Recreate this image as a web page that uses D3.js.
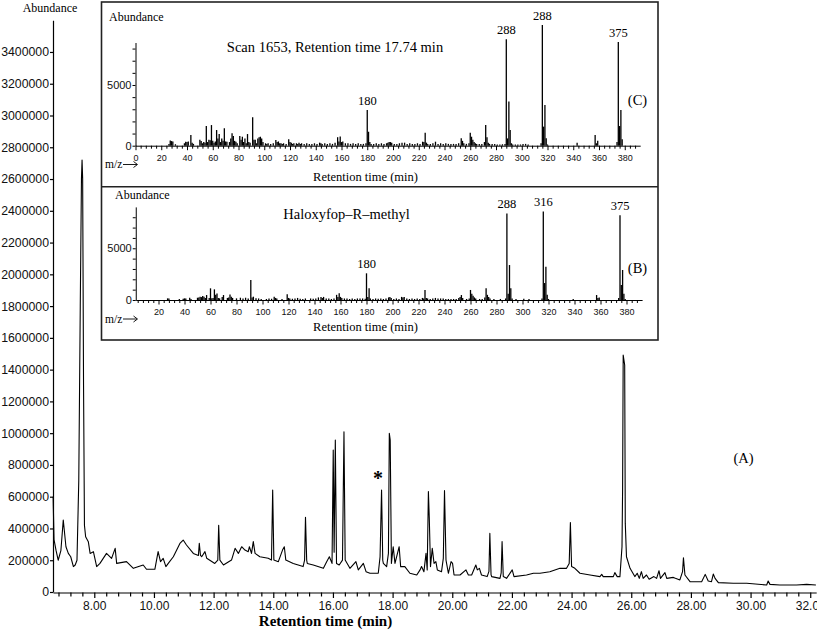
<!DOCTYPE html>
<html><head><meta charset="utf-8">
<script src="https://cdn.jsdelivr.net/npm/d3@7"></script>
<style>
body{margin:0;background:#fff;}
svg{display:block;}
</style></head><body>
<svg id="c" width="817" height="638"></svg>
<script>
// ---------- main chromatogram (A) ----------
const rtTime = [6.62,6.65,6.72,6.79,6.88,6.96,7.05,7.13,7.21,7.30,7.36,7.42,7.48,7.53,7.57,7.59,7.61,7.64,7.67,7.71,7.80,7.86,7.97,8.08,8.19,8.41,8.58,8.70,8.75,9.08,9.31,9.64,9.75,10.03,10.14,10.22,10.31,10.40,10.48,10.65,10.87,10.98,11.09,11.32,11.49,11.52,11.56,11.60,11.71,11.77,12.04,12.14,12.17,12.21,12.33,12.60,12.72,12.83,12.94,13.05,13.16,13.20,13.27,13.33,13.39,13.55,13.83,13.94,13.98,14.02,14.17,14.31,14.37,14.42,14.67,15.00,15.05,15.08,15.12,15.14,15.34,15.68,15.79,15.88,15.97,16.01,16.04,16.08,16.12,16.21,16.32,16.37,16.41,16.57,16.77,16.85,17.02,17.11,17.24,17.52,17.58,17.63,17.67,17.69,17.80,17.86,17.89,17.92,17.96,18.02,18.08,18.22,18.27,18.41,18.58,18.81,18.92,18.97,19.05,19.12,19.16,19.20,19.23,19.27,19.33,19.39,19.45,19.50,19.64,19.70,19.74,19.79,19.87,19.96,20.01,20.06,20.26,20.46,20.54,20.65,20.79,20.84,20.91,20.98,21.17,21.23,21.26,21.30,21.32,21.60,21.64,21.67,21.71,21.82,22.01,22.07,22.49,22.72,22.94,23.27,23.61,23.83,23.92,23.96,24.00,24.11,24.28,24.62,24.95,25.01,25.06,25.40,25.45,25.53,25.62,25.69,25.71,25.73,25.78,25.80,25.84,25.96,26.12,26.20,26.27,26.34,26.40,26.51,26.60,26.76,26.85,26.93,26.98,27.13,27.19,27.41,27.48,27.63,27.72,27.75,27.80,27.97,28.36,28.48,28.58,28.69,28.75,28.81,28.92,29.42,29.87,30.54,30.59,30.65,30.98,31.54,31.88,32.19];
const rtAbund = [600000,330000,260000,200000,260000,453000,285000,243000,222000,160000,170000,200000,700000,1800000,2600000,2720000,2600000,1300000,420000,348000,317000,243000,254000,160000,180000,243000,212000,275000,180000,191000,149000,170000,143000,143000,254000,191000,212000,160000,180000,222000,306000,327000,296000,243000,230000,306000,230000,222000,254000,212000,180000,200000,420000,201000,170000,201000,275000,243000,285000,264000,254000,285000,243000,317000,243000,222000,212000,201000,642000,201000,191000,264000,285000,201000,180000,160000,200000,470000,200000,180000,170000,149000,191000,222000,180000,894000,250000,957000,180000,170000,201000,1009000,201000,149000,191000,139000,180000,128000,118000,118000,222000,642000,200000,180000,160000,243000,999000,957000,180000,285000,180000,285000,160000,160000,118000,107000,139000,160000,128000,243000,139000,632000,464000,160000,275000,180000,191000,139000,128000,212000,638000,201000,118000,191000,180000,107000,107000,139000,107000,107000,170000,139000,149000,107000,97000,130000,369000,110000,97000,86000,120000,317000,97000,86000,139000,97000,107000,118000,118000,128000,149000,149000,180000,437000,160000,149000,118000,107000,97000,111000,97000,97000,122000,97000,97000,285000,642000,1492000,1429000,432000,222000,149000,97000,118000,86000,128000,86000,107000,80000,97000,86000,134000,86000,122000,86000,92000,86000,76000,128000,216000,107000,65000,65000,111000,69000,65000,113000,86000,59000,55000,55000,44000,69000,48000,44000,44000,48000,44000];
const yTickValues = [0,200000,400000,600000,800000,1000000,1200000,1400000,1600000,1800000,2000000,2200000,2400000,2600000,2800000,3000000,3200000,3400000];
const xTickValues = [8,10,12,14,16,18,20,22,24,26,28,30,32];
const xTickLabels = ["8.00","10.00","12.00","14.00","16.00","18.00","20.00","22.00","24.00","26.00","28.00","30.00","32.00"];

// ---------- inset (C): scan 1653 ----------
const specC_mz = [26,27,28,29,31,38,39,40,41,43,44,45,50,51,52,53,54,55,56,57,58,59,60,61,62,63,64,65,66,67,68,69,70,71,73,74,75,76,77,78,79,81,82,83,84,85,86,87,88,89,91,92,93,94,95,96,97,98,99,101,102,103,105,107,109,110,111,112,113,114,115,117,119,120,121,122,123,125,126,127,128,129,131,133,135,137,139,141,143,144,145,147,149,151,153,155,157,158,159,160,161,163,165,167,169,171,173,175,177,179,180,181,182,183,185,187,189,191,193,195,196,197,198,199,201,203,205,207,209,211,213,215,217,219,221,223,224,225,226,227,229,231,233,235,237,239,241,243,245,247,249,251,253,254,255,257,259,260,261,262,263,264,265,267,269,271,272,273,274,275,277,279,281,283,285,287,288,289,290,291,292,293,295,297,299,301,303,305,315,316,317,318,319,320,343,357,358,359,374,375,376,377,378];
const specC_ab = [150,420,380,350,120,200,330,300,350,880,250,150,490,380,200,300,250,1620,300,500,450,1700,400,250,350,1290,600,960,300,600,400,1430,350,330,300,600,1020,800,400,330,200,800,500,740,300,600,200,960,300,250,2340,500,490,200,600,700,740,600,300,200,150,200,150,200,460,300,350,200,200,150,200,150,530,300,250,150,200,200,150,250,150,200,150,200,150,150,200,150,250,200,150,200,150,200,150,250,700,350,750,300,350,200,200,150,200,150,200,150,150,200,2940,1150,300,150,150,200,150,200,150,200,250,300,300,250,150,150,200,250,250,150,200,150,150,200,150,330,300,1070,250,150,150,200,330,150,200,150,200,150,150,150,150,200,610,400,200,150,200,1070,740,490,300,200,150,150,150,300,1700,690,250,150,150,150,100,100,120,150,8760,600,3650,1290,200,100,100,100,100,150,150,100,200,9940,1570,3350,610,100,250,880,200,410,300,8540,1620,2940,530];
const labC_mz = [180,288,316,375];
const labC_txt = ["180","288","288","375"];

// ---------- inset (B): Haloxyfop-R-methyl ----------
const specB_mz = [27,28,36,39,40,41,44,45,50,51,52,53,54,55,56,57,59,60,61,62,63,64,65,66,67,69,70,73,74,75,76,77,80,83,85,87,89,91,92,93,95,97,99,103,105,107,109,110,111,115,119,120,121,123,125,127,129,131,133,137,139,141,143,145,146,147,149,151,153,155,157,158,159,160,161,163,165,167,169,171,173,175,177,179,180,181,182,183,185,187,189,191,193,195,197,198,199,201,203,205,207,208,209,211,213,215,217,219,221,223,224,225,226,227,229,231,233,235,237,239,241,243,245,247,249,251,252,253,254,257,259,260,261,262,263,264,267,269,271,272,273,274,275,278,283,287,288,289,290,291,292,295,301,305,315,316,317,318,319,320,339,357,358,359,374,375,376,377,378,379];
const specB_ab = [160,150,100,120,160,150,220,100,220,250,320,280,390,320,200,480,200,1130,160,200,1030,500,640,200,160,300,480,200,250,540,320,200,160,220,150,220,150,1930,250,320,160,150,100,100,150,120,320,200,150,100,550,200,150,120,150,200,120,100,150,150,120,150,250,300,200,300,150,150,100,150,500,300,650,300,200,150,150,100,150,100,150,150,150,120,2580,300,1130,150,100,150,120,150,100,150,250,300,200,100,150,100,300,250,300,150,100,150,100,150,100,200,150,970,200,150,100,150,200,150,150,150,100,100,100,100,100,200,300,480,200,100,150,970,600,400,250,150,100,100,250,1130,500,300,150,100,100,150,8350,600,3380,1130,150,100,120,100,150,8550,1640,3220,500,100,100,480,200,250,200,8200,1450,2900,600,100];
const labB_mz = [180,288,316,375];
const labB_txt = ["180","288","316","375"];

const svg = d3.select("#c");
const SANS = '"Liberation Sans", Arial, sans-serif';
const SERIF = '"Liberation Serif", "Times New Roman", serif';

// ---------- main axes ----------
const x = d3.scaleLinear().domain([6.616, 32.2]).range([53, 816.2]);
const y = d3.scaleLinear().domain([0, 3600000]).range([592, 20.2]);

const gy = svg.append("g").attr("transform", "translate(53,0)")
  .call(d3.axisLeft(y).tickValues(yTickValues).tickSize(3).tickSizeOuter(0).tickPadding(1).tickFormat(d => String(d)));
gy.selectAll("text").attr("font-family", SANS).attr("font-size", 12.3).attr("fill", "#111");
gy.selectAll("line,path").attr("stroke", "#000").attr("stroke-width", 1.2);

const minorT = d3.range(6.8, 32.2, 0.4).filter(t => Math.abs(t / 2 - Math.round(t / 2)) > 0.01);
const gxm = svg.append("g").attr("transform", "translate(0,592.5)")
  .call(d3.axisBottom(x).tickValues(minorT).tickSize(4).tickSizeOuter(0).tickFormat(""));
gxm.selectAll("line,path").attr("stroke", "#000").attr("stroke-width", 1.2);
const gx = svg.append("g").attr("transform", "translate(0,592.5)")
  .call(d3.axisBottom(x).tickValues(xTickValues).tickSize(5.5).tickSizeOuter(0).tickPadding(3).tickFormat((d, i) => xTickLabels[i]));
gx.select(".domain").remove();
gx.selectAll("line").attr("stroke", "#000").attr("stroke-width", 1.2);
gx.selectAll("text").attr("font-family", SANS).attr("font-size", 12).attr("fill", "#111");

// chromatogram line
const mainPts = rtTime.map((t, i) => [t, rtAbund[i]]);
svg.append("path").datum(mainPts)
  .attr("d", d3.line().x(d => x(d[0])).y(d => y(d[1])))
  .attr("fill", "none").attr("stroke", "#000").attr("stroke-width", 1.1).attr("stroke-linejoin", "round");

svg.append("text").attr("x", 50).attr("y", 12).attr("text-anchor", "middle")
  .attr("font-family", SERIF).attr("font-size", 12).text("Abundance");
svg.append("text").attr("x", 325.5).attr("y", 626).attr("text-anchor", "middle")
  .attr("font-family", SERIF).attr("font-size", 15).attr("font-weight", "bold").text("Retention time (min)");
svg.append("text").attr("x", 743.5).attr("y", 463).attr("text-anchor", "middle")
  .attr("font-family", SERIF).attr("font-size", 14.5).text("(A)");
svg.append("text").attr("x", x(17.63) - 3.5).attr("y", 485).attr("text-anchor", "middle")
  .attr("font-family", SERIF).attr("font-size", 20).attr("font-weight", "bold").text("*");

// ---------- inset frame ----------
svg.append("rect").attr("x", 101.5).attr("y", 2).attr("width", 556.5).attr("height", 338)
  .attr("fill", "#fff").attr("stroke", "#222").attr("stroke-width", 1.6);
svg.append("line").attr("x1", 101.5).attr("x2", 658).attr("y1", 186.7).attr("y2", 186.7)
  .attr("stroke", "#222").attr("stroke-width", 1.6);

function drawInset(cfg) {
  const xs = d3.scaleLinear().domain(cfg.xDomain).range(cfg.xRange);
  const ys = d3.scaleLinear().domain(cfg.yDomain).range(cfg.yRange);
  const g = svg.append("g");
  const ya = g.append("g").attr("transform", `translate(${cfg.xRange[0]},0)`)
    .call(d3.axisLeft(ys).tickValues(d3.range(0, cfg.yDomain[1], 1000)).tickSize(3).tickSizeOuter(0).tickPadding(1)
      .tickFormat(d => (d === 0 || d === 5000) ? String(d) : ""));
  ya.selectAll("line,path").attr("stroke", "#000").attr("stroke-width", 1);
  ya.selectAll("text").attr("font-family", SANS).attr("font-size", 11).attr("fill", "#111");
  const xa = g.append("g").attr("transform", `translate(0,${cfg.yRange[0]})`)
    .call(d3.axisBottom(xs).tickValues(cfg.minor).tickSize(3).tickSizeOuter(0).tickFormat(""));
  xa.selectAll("line,path").attr("stroke", "#000").attr("stroke-width", 1);
  const xb = g.append("g").attr("transform", `translate(0,${cfg.yRange[0]})`)
    .call(d3.axisBottom(xs).tickValues(cfg.major).tickSize(4.5).tickSizeOuter(0).tickPadding(4).tickFormat(d => String(d)));
  xb.select(".domain").remove();
  xb.selectAll("line").attr("stroke", "#000").attr("stroke-width", 1);
  xb.selectAll("text").attr("font-family", SANS).attr("font-size", 9).attr("fill", "#111");
  g.append("g").selectAll("line").data(cfg.mz).join("line")
    .attr("x1", d => xs(d)).attr("x2", d => xs(d))
    .attr("y1", ys(0)).attr("y2", (d, i) => ys(cfg.ab[i]))
    .attr("stroke", "#000").attr("stroke-width", 1.3);
  g.append("g").selectAll("text").data(cfg.labMz).join("text")
    .attr("x", d => xs(d)).attr("y", d => ys(cfg.ab[cfg.mz.indexOf(d)]) - 5.5)
    .attr("text-anchor", "middle").attr("font-family", SERIF).attr("font-size", 12.5)
    .text((d, i) => cfg.labTxt[i]);
  g.append("text").attr("x", cfg.abX).attr("y", cfg.abY).attr("font-family", SERIF).attr("font-size", 12).text("Abundance");
  g.append("text").attr("x", cfg.titleX).attr("y", cfg.titleY).attr("text-anchor", "middle")
    .attr("font-family", SERIF).attr("font-size", 14.5).text(cfg.title);
  g.append("text").attr("x", 637.5).attr("y", cfg.tagY).attr("text-anchor", "middle")
    .attr("font-family", SERIF).attr("font-size", 14.5).text(cfg.tag);
  // m/z with a long arrow
  g.append("text").attr("x", 105).attr("y", cfg.mzY).attr("font-family", SERIF).attr("font-size", 11.5).text("m/z");
  const ay = cfg.mzY - 3.5;
  g.append("path").attr("d", `M123,${ay}H137M133.5,${ay - 3}L137.5,${ay}L133.5,${ay + 3}`)
    .attr("fill", "none").attr("stroke", "#000").attr("stroke-width", 0.9);
  g.append("text").attr("x", 365.5).attr("y", cfg.rtY).attr("text-anchor", "middle")
    .attr("font-family", SERIF).attr("font-size", 12.5).text("Retention time (min)");
}

drawInset({
  xDomain: [0, 392], xRange: [135.5, 640.2],
  yDomain: [0, 8500], yRange: [145.7, 42.5],
  minor: d3.range(0, 392, 4).filter(v => v % 20 !== 0),
  major: d3.range(0, 392, 20),
  mz: specC_mz, ab: specC_ab, labMz: labC_mz, labTxt: labC_txt,
  abX: 109, abY: 21, title: "Scan 1653, Retention time 17.74 min", titleX: 335, titleY: 51.5,
  tag: "(C)", tagY: 105, mzY: 168, rtY: 180.5
});
drawInset({
  xDomain: [2.5, 392], xRange: [135.75, 642.1],
  yDomain: [0, 9000], yRange: [300, 206.9],
  minor: d3.range(4, 392, 4).filter(v => v % 20 !== 0),
  major: d3.range(20, 392, 20),
  mz: specB_mz, ab: specB_ab, labMz: labB_mz, labTxt: labB_txt,
  abX: 115, abY: 199, title: "Haloxyfop\u2013R\u2013methyl", titleX: 346.5, titleY: 219,
  tag: "(B)", tagY: 273, mzY: 322.5, rtY: 331
});
</script>
</body></html>
